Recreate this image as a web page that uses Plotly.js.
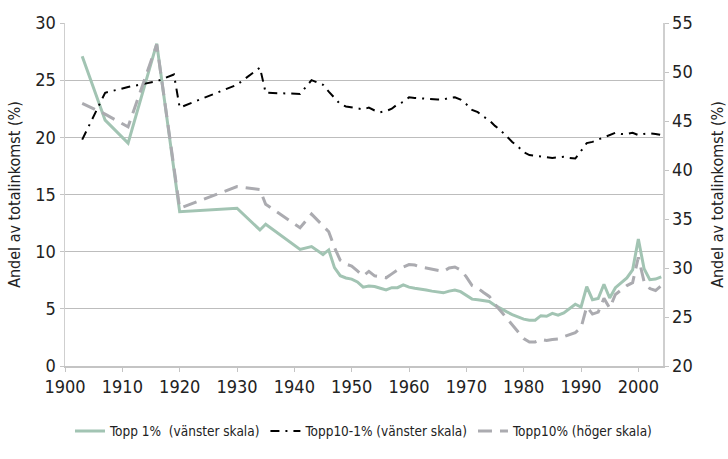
<!DOCTYPE html>
<html>
<head>
<meta charset="utf-8">
<script src="https://cdn.plot.ly/plotly-3.0.1.min.js"></script>
<style>
html,body{margin:0;padding:0;background:#fff;}
#chart{width:728px;height:459px;}
</style>
</head>
<body>
<div id="chart"></div>
<script>
// Topp 1% (left scale)
const top1Years = [1903,1907,1911,1916,1920,1930,1934,1935,1941,1943,1945,1946,1947,1948,1949,1950,1951,1952,1953,1954,1955,1956,1957,1958,1959,1960,1961,1962,1963,1964,1965,1966,1967,1968,1969,1970,1971,1972,1973,1974,1975,1976,1977,1978,1979,1980,1981,1982,1983,1984,1985,1986,1987,1988,1989,1990,1991,1992,1993,1994,1995,1996,1997,1998,1999,2000,2001,2002,2003,2004];
const top1Values = [27.1,21.5,19.5,28.2,13.5,13.8,11.9,12.4,10.2,10.45,9.75,10.15,8.6,7.9,7.7,7.6,7.35,6.9,7.0,6.95,6.8,6.65,6.85,6.85,7.1,6.9,6.8,6.75,6.65,6.55,6.45,6.4,6.55,6.65,6.5,6.2,5.85,5.8,5.75,5.65,5.3,5.0,4.75,4.5,4.3,4.1,4.0,4.0,4.4,4.35,4.6,4.45,4.65,5.0,5.4,5.15,6.95,5.8,5.9,7.15,5.95,6.85,7.3,7.7,8.4,11.1,8.5,7.55,7.6,7.8];

// Topp10-1% (left scale)
const top10to1Years = [1903,1907,1911,1916,1919,1920,1930,1934,1935,1941,1943,1945,1946,1947,1948,1949,1950,1951,1952,1953,1954,1955,1956,1957,1958,1959,1960,1961,1962,1963,1964,1965,1966,1967,1968,1969,1970,1971,1972,1973,1974,1975,1976,1977,1978,1979,1980,1981,1982,1983,1984,1985,1986,1987,1988,1989,1990,1991,1992,1993,1994,1995,1996,1997,1998,1999,2000,2001,2002,2003,2004];
const top10to1Values = [19.8,23.9,24.4,24.9,25.5,22.6,24.6,26.1,23.9,23.8,25.0,24.6,24.0,23.4,22.9,22.7,22.6,22.5,22.45,22.6,22.35,22.2,22.3,22.5,22.9,23.1,23.5,23.45,23.4,23.35,23.3,23.3,23.3,23.45,23.5,23.3,22.9,22.4,22.2,21.8,21.5,21.0,20.6,20.1,19.6,19.2,18.7,18.45,18.4,18.3,18.25,18.2,18.25,18.3,18.2,18.15,18.8,19.5,19.6,19.8,20.0,20.2,20.4,20.3,20.3,20.4,20.2,20.3,20.35,20.3,20.2];

// Topp10% (right scale)
const top10Years = [1903,1907,1911,1916,1920,1930,1934,1935,1941,1943,1945,1946,1947,1948,1949,1950,1951,1952,1953,1954,1955,1956,1957,1958,1959,1960,1961,1962,1963,1964,1965,1966,1967,1968,1969,1970,1971,1972,1973,1974,1975,1976,1977,1978,1979,1980,1981,1982,1983,1984,1985,1986,1987,1988,1989,1990,1991,1992,1993,1994,1995,1996,1997,1998,1999,2000,2001,2002,2003,2004];
const top10Values = [46.8,45.7,44.4,52.8,36.1,38.3,38.0,36.5,34.1,35.5,34.3,33.7,32.1,30.8,30.4,30.2,29.7,29.2,29.65,29.2,29.1,29.0,29.4,29.8,30.1,30.35,30.3,30.1,30.0,29.9,29.8,29.65,30.0,30.1,29.8,29.1,28.2,27.95,27.5,27.1,26.3,25.6,24.8,24.1,23.4,22.8,22.45,22.45,22.7,22.6,22.7,22.75,23.0,23.2,23.4,23.9,26.05,25.3,25.5,26.9,25.9,27.3,27.8,28.2,28.5,31.1,28.6,27.9,27.7,28.2];

const leftTicks = [0,5,10,15,20,25,30];
const rightTicks = [20,25,30,35,40,45,50,55];
const xTicks = [1900,1910,1920,1930,1940,1950,1960,1970,1980,1990,2000];

const names = ['Topp 1%  (vänster skala)','Topp10-1% (vänster skala)','Topp10% (höger skala)'];
const axisTitle = 'Andel av totalinkomst (%)';

const FONT = '"DejaVu Sans Condensed", "Liberation Sans Narrow", "Roboto Condensed", "Arial Narrow", sans-serif';

const traces = [
  {x: top1Years, y: top1Values, name: names[0], mode: 'lines',
   line: {color: '#a2c4b3', width: 3}, legendrank: 1},
  {x: top10to1Years, y: top10to1Values, name: names[1], mode: 'lines',
   line: {color: '#000000', width: 2, dash: '9px,6px,2px,6px'}, legendrank: 2},
  {x: top10Years, y: top10Values, name: names[2], yaxis: 'y2', mode: 'lines',
   line: {color: '#ababb0', width: 3, dash: '14px,8px'}, legendrank: 3}
];

const layout = {
  width: 728, height: 459,
  margin: {l: 65, r: 65, t: 23, b: 79},
  paper_bgcolor: '#fff', plot_bgcolor: '#fff',
  font: {family: FONT, size: 18, color: '#222'},
  showlegend: true,
  legend: {orientation: 'h', x: 0.5, xanchor: 'center', y: -0.145, yanchor: 'top',
           font: {size: 13.5, family: FONT, color: '#222'}, itemwidth: 30, traceorder: 'normal'},
  xaxis: {range: [1900, 2004.3], tickvals: xTicks, ticktext: xTicks.map(String),
          showgrid: false, zeroline: false, showline: true, linecolor: '#c4c4c4', linewidth: 1.5,
          ticks: 'outside', ticklen: 4, tickcolor: '#c4c4c4', tickfont: {size: 18}},
  yaxis: {range: [0, 30], tickvals: leftTicks, showgrid: true, gridcolor: '#bdbdbd', gridwidth: 1.3,
          zeroline: false, showline: true, linecolor: '#cfcfcf', linewidth: 1.5,
          ticks: 'outside', ticklen: 4, tickcolor: '#c4c4c4', tickfont: {size: 18},
          title: {text: axisTitle, font: {size: 16}, standoff: 10}},
  yaxis2: {range: [20, 55], tickvals: rightTicks, overlaying: 'y', side: 'right',
           showgrid: false, zeroline: false, showline: true, linecolor: '#cfcfcf', linewidth: 1.5,
           ticks: 'outside', ticklen: 4, tickcolor: '#c4c4c4', tickfont: {size: 18},
           title: {text: axisTitle, font: {size: 16}, standoff: 20}}
};

Plotly.newPlot('chart', traces, layout, {displayModeBar: false, staticPlot: true});
</script>
</body>
</html>
